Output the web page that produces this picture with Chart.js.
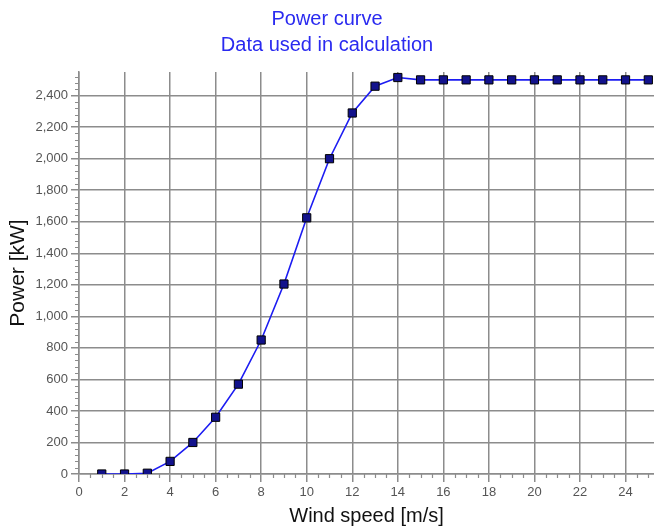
<!DOCTYPE html>
<html>
<head>
<meta charset="utf-8">
<script src="https://cdn.jsdelivr.net/npm/chart.js@4/dist/chart.umd.min.js"></script>
<style>
  html, body { margin: 0; padding: 0; background: #fff; overflow: hidden; }
  #wrap { width: 654px; height: 528px; }
</style>
</head>
<body>
<div id="wrap"><canvas id="chartPower"></canvas></div>
<script>
const titulo = ["Power curve", "Data used in calculation"];
const ejeX = "Wind speed [m/s]";
const ejeY = "Power [kW]";
const viento = [1, 2, 3, 4, 5, 6, 7, 8, 9, 10, 11, 12, 13, 14, 15, 16, 17, 18, 19, 20, 21, 22, 23, 24, 25];
const potencia = [0, 0, 5, 80, 200, 360, 570, 850, 1205, 1625, 2000, 2290, 2460, 2515, 2500, 2500, 2500, 2500, 2500, 2500, 2500, 2500, 2500, 2500, 2500];

const GRIS = '#8c8c8c';

// ticks menores (cada 0.5 m/s y cada 40 kW)
const ticksMenores = {
  id: 'ticksMenores',
  afterDraw(chart) {
    const {ctx, scales: {x, y}} = chart;
    ctx.save();
    ctx.strokeStyle = GRIS;
    ctx.lineWidth = 1.2;
    ctx.beginPath();
    for (let v = 0.5; v <= x.max; v += 0.5) {
      if (v % 2 === 0) continue;
      const px = Math.round(x.getPixelForValue(v)) + 0.5;
      ctx.moveTo(px, y.bottom);
      ctx.lineTo(px, y.bottom + 4);
    }
    for (let v = 40; v <= y.max; v += 40) {
      if (v % 200 === 0) continue;
      const py = Math.round(y.getPixelForValue(v)) + 0.5;
      ctx.moveTo(x.left - 4, py);
      ctx.lineTo(x.left, py);
    }
    ctx.stroke();
    ctx.restore();
  }
};

const ctx = document.getElementById('chartPower').getContext('2d');
new Chart(ctx, {
  type: 'line',
  data: {
    datasets: [{
      label: 'Power',
      data: viento.map((v, i) => ({x: v, y: potencia[i]})),
      borderColor: '#1c1cf2',
      borderWidth: 1.6,
      pointStyle: 'rect',
      pointRadius: 5.8,
      pointBackgroundColor: '#12128c',
      pointBorderColor: '#000',
      pointBorderWidth: 1,
      tension: 0
    }]
  },
  options: {
    responsive: true,
    maintainAspectRatio: false,
    animation: false,
    layout: { padding: 0, autoPadding: false },
    plugins: {
      legend: { display: false },
      tooltip: { enabled: false },
      title: {
        display: true,
        text: titulo,
        color: '#2a2af0',
        font: { family: 'Liberation Sans', size: 20, weight: 'normal', lineHeight: 1.3 },
        padding: { top: 6, bottom: 14 }
      }
    },
    scales: {
      x: {
        type: 'linear',
        min: 0,
        max: 25.25,
        afterFit: s => { s.height = 54; s.paddingRight = 0; s.paddingLeft = 0; },
        ticks: {
          stepSize: 2,
          includeBounds: false,
          color: '#555',
          font: { family: 'Liberation Sans', size: 13 },
          padding: 3,
          maxRotation: 0
        },
        grid: { color: GRIS, lineWidth: 1.5, tickLength: 8, tickColor: GRIS },
        border: { color: GRIS, width: 1.5 },
        title: {
          display: true,
          text: ejeX,
          color: '#111',
          font: { family: 'Liberation Sans', size: 20 },
          padding: { top: 0, bottom: 0 }
        }
      },
      y: {
        min: 0,
        max: 2550,
        afterFit: s => { s.width = 79; s.paddingTop = 0; s.paddingBottom = 0; },
        ticks: {
          stepSize: 200,
          includeBounds: false,
          color: '#555',
          font: { family: 'Liberation Sans', size: 13 },
          padding: 3,
          callback: v => v.toLocaleString('en-US')
        },
        grid: { color: GRIS, lineWidth: 1.5, tickLength: 8, tickColor: GRIS },
        border: { color: GRIS, width: 1.5 },
        title: {
          display: true,
          text: ejeY,
          color: '#111',
          font: { family: 'Liberation Sans', size: 21 },
          padding: { top: 6, bottom: 0 }
        }
      }
    }
  },
  plugins: [ticksMenores]
});
</script>
</body>
</html>
